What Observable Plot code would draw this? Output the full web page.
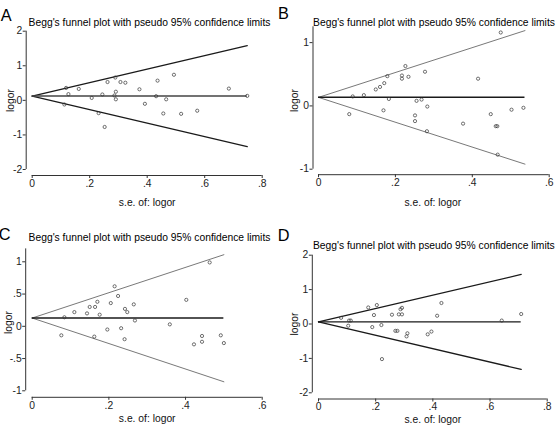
<!DOCTYPE html>
<html><head><meta charset="utf-8">
<script src="https://cdn.jsdelivr.net/npm/d3@7"></script>
<script src="https://cdn.jsdelivr.net/npm/@observablehq/plot@0.6"></script>
<style>
html,body{margin:0;padding:0;background:#fff;}
#wrap{position:relative;width:556px;height:425px;overflow:hidden;background:#fff;}
.panel{position:absolute;}
.panel svg{display:block;}
</style></head><body><div id="wrap"></div>
<script>
// ---- Panel A ----
const seA = [0.112,0.118,0.126,0.162,0.207,0.231,0.244,0.252,0.262,0.289,0.286,0.291,0.291,0.307,0.324,0.373,0.392,0.431,0.436,0.456,0.466,0.493,0.518,0.574,0.684,0.748];
const logorA = [-0.12,0.36,0.18,0.33,0.07,-0.37,0.17,-0.77,0.53,0.66,0.14,0.25,0.03,0.53,0.51,0.32,-0.10,0.12,0.57,-0.38,0.03,0.74,-0.39,-0.30,0.34,0.13];
const funnelSeA = [0, 0.748];
const upperA = [0.125, 1.58];
const lowerA = [0.125, -1.34];
const pooledA = 0.125;
const xTicksA = [0, 0.2, 0.4, 0.6, 0.8];
const yTicksA = [-2, -1, 0, 1, 2];

// ---- Panel B ----
const seB = [0.080,0.089,0.118,0.149,0.160,0.171,0.169,0.179,0.183,0.217,0.217,0.226,0.234,0.251,0.251,0.255,0.268,0.277,0.283,0.282,0.376,0.415,0.448,0.461,0.465,0.474,0.466,0.502,0.533];
const logorB = [-0.13,0.15,0.17,0.26,0.30,0.36,-0.07,0.47,0.11,0.48,0.43,0.63,0.46,-0.15,-0.24,0.08,0.10,0.54,-0.01,-0.40,-0.28,0.43,-0.13,-0.32,-0.32,1.16,-0.77,-0.06,-0.03];
const funnelSeB = [0, 0.537];
const upperB = [0.135, 1.19];
const lowerB = [0.135, -0.92];
const pooledB = 0.135;
const xTicksB = [0, 0.2, 0.4, 0.6];
const yTicksB = [-1, 0, 1];

// ---- Panel C ----
const seC = [0.076,0.084,0.110,0.143,0.150,0.164,0.170,0.176,0.162,0.196,0.205,0.215,0.224,0.232,0.241,0.242,0.248,0.265,0.268,0.359,0.402,0.463,0.443,0.443,0.422,0.492,0.500];
const logorC = [-0.14,0.14,0.22,0.20,0.30,0.30,0.38,0.18,-0.16,-0.05,0.36,0.62,0.47,-0.03,-0.20,0.27,0.22,0.34,0.09,0.03,0.41,0.99,-0.15,-0.24,-0.28,-0.14,-0.26];
const funnelSeC = [0, 0.500];
const upperC = [0.128, 1.11];
const lowerC = [0.128, -0.86];
const pooledC = 0.128;
const xTicksC = [0, 0.2, 0.4, 0.6];
const yTicksC = [-1, -0.5, 0, 0.5, 1];

// ---- Panel D ----
const seD = [0.079,0.107,0.113,0.104,0.174,0.204,0.194,0.188,0.220,0.257,0.281,0.292,0.287,0.292,0.269,0.276,0.308,0.311,0.222,0.382,0.395,0.430,0.415,0.641,0.709];
const logorD = [0.18,0.10,0.10,-0.05,0.48,0.55,0.26,-0.09,-0.03,0.27,0.28,0.28,0.43,0.47,-0.20,-0.20,-0.36,-0.27,-1.02,-0.30,-0.22,0.61,0.24,0.10,0.29];
const funnelSeD = [0, 0.709];
const upperD = [0.06, 1.44];
const lowerD = [0.06, -1.32];
const pooledD = 0.06;
const xTicksD = [0, 0.2, 0.4, 0.6, 0.8];
const yTicksD = [-2, -1, 0, 1, 2];

const titleText = "Begg's funnel plot with pseudo 95% confidence limits";
const xLabel = "s.e. of: logor";
const yLabel = "logor";

const FONT = "'Liberation Sans', Arial, Helvetica, sans-serif";
const stataFmt = d => {
  if (d === 0) return "0";
  const s = String(+d.toFixed(3));
  return s.replace(/^(-?)0\./, "$1.");
};

function panel(c) {
  const pts = c.se.map((s, i) => ({se: s, lg: c.lg[i]}));
  const funnel = c.fSe.map((s, i) => ({se: s, up: c.fUp[i], lo: c.fLo[i]}));
  const at = (txt, px, py, o = {}) => Plot.text([txt], {
    text: d => d, frameAnchor: "top-left",
    dx: px - c.ml, dy: py - c.mt, textAnchor: "middle", fill: "#111", ...o
  });
  return Plot.plot({
    width: c.W, height: c.H,
    marginLeft: c.ml, marginRight: c.mr, marginTop: c.mt, marginBottom: c.mb,
    x: {domain: c.xDomain},
    y: {domain: c.yDomain},
    style: {fontFamily: FONT, fontSize: "10.3px", color: "#222", background: "white", overflow: "visible"},
    marks: [
      Plot.ruleX([c.xDomain[0]], {y1: c.yDomain[0], y2: c.yDomain[1], dx: -c.gap, stroke: "#333", strokeWidth: 1}),
      Plot.ruleY([c.yDomain[0]], {x1: c.xDomain[0], x2: c.xDomain[1], dy: c.gap, stroke: "#333", strokeWidth: 1}),
      Plot.axisY({ticks: c.yTicks, tickSize: 3, tickPadding: 1, dx: -c.gap, tickFormat: stataFmt, label: null, stroke: "#333", fill: "#222"}),
      Plot.axisX({ticks: c.xTicks, tickSize: 3, tickPadding: 1, dy: c.gap, tickFormat: stataFmt, label: null, stroke: "#333", fill: "#222"}),
      Plot.line(funnel, {x: "se", y: "up", stroke: c.fStroke, strokeWidth: c.fWidth}),
      Plot.line(funnel, {x: "se", y: "lo", stroke: c.fStroke, strokeWidth: c.fWidth}),
      Plot.ruleY([c.pooled], {x1: c.fSe[0], x2: c.fSe[1], stroke: c.pStroke, strokeWidth: c.pWidth}),
      Plot.dot(pts, {x: "se", y: "lg", r: 1.6, stroke: "#333", strokeWidth: 0.7, fill: "none"}),
      at(c.letter, c.letterPos[0], c.letterPos[1], {fontSize: 16.3, fill: "#000"}),
      at(titleText, c.titlePos[0], c.titlePos[1], {fill: "#000"}),
      at(xLabel, c.xlabPos[0], c.xlabPos[1]),
      at(yLabel, c.ylabPos[0], c.ylabPos[1], {rotate: -90})
    ]
  });
}

const panels = [
  {left: 0, top: 0, letter: "A", se: seA, lg: logorA, fSe: funnelSeA, fUp: upperA, fLo: lowerA, pooled: pooledA,
   xDomain: [0, 0.8], yDomain: [-2, 2], xTicks: xTicksA, yTicks: yTicksA,
   W: 278, H: 212, ml: 31.7, mr: 16.3, mt: 30.7, mb: 43, gap: 6,
   letterPos: [5.8, 9.2], titlePos: [149, 18], ylabPos: [6, 100], xlabPos: [146.7, 198],
   fStroke: "#1a1a1a", fWidth: 1.3, pStroke: "#444", pWidth: 1.5},
  {left: 278, top: 0, letter: "B", se: seB, lg: logorB, fSe: funnelSeB, fUp: upperB, fLo: lowerB, pooled: pooledB,
   xDomain: [0, 0.6], yDomain: [-1, 1.25], xTicks: xTicksB, yTicks: yTicksB,
   W: 278, H: 212, ml: 40, mr: 7.3, mt: 26.3, mb: 43.3, gap: 5.5,
   letterPos: [5, 6.7], titlePos: [155.5, 18.3], ylabPos: [11.7, 100], xlabPos: [154.3, 198],
   fStroke: "#555", fWidth: 0.8, pStroke: "#1a1a1a", pWidth: 1.5},
  {left: 0, top: 212, letter: "C", se: seC, lg: logorC, fSe: funnelSeC, fUp: upperC, fLo: lowerC, pooled: pooledC,
   xDomain: [0, 0.6], yDomain: [-1, 1.2], xTicks: xTicksC, yTicks: yTicksC,
   W: 278, H: 213, ml: 31.7, mr: 16.3, mt: 36.4, mb: 34.7, gap: 6.5,
   letterPos: [4.2, 15.8], titlePos: [149, 21], ylabPos: [3.8, 110], xlabPos: [146.7, 202.5],
   fStroke: "#555", fWidth: 0.8, pStroke: "#1a1a1a", pWidth: 1.5},
  {left: 278, top: 212, letter: "D", se: seD, lg: logorD, fSe: funnelSeD, fUp: upperD, fLo: lowerD, pooled: pooledD,
   xDomain: [0, 0.8], yDomain: [-2, 2], xTicks: xTicksD, yTicks: yTicksD,
   W: 278, H: 213, ml: 40, mr: 9.3, mt: 42.7, mb: 32.7, gap: 6.2,
   letterPos: [5, 16.7], titlePos: [155.3, 29.3], ylabPos: [11.7, 111.5], xlabPos: [154.3, 203],
   fStroke: "#1a1a1a", fWidth: 1.3, pStroke: "#1a1a1a", pWidth: 1.3}
];

const wrap = document.getElementById("wrap");
for (const p of panels) {
  const div = document.createElement("div");
  div.className = "panel";
  div.style.left = p.left + "px";
  div.style.top = p.top + "px";
  div.appendChild(panel(p));
  wrap.appendChild(div);
}
</script></body></html>
